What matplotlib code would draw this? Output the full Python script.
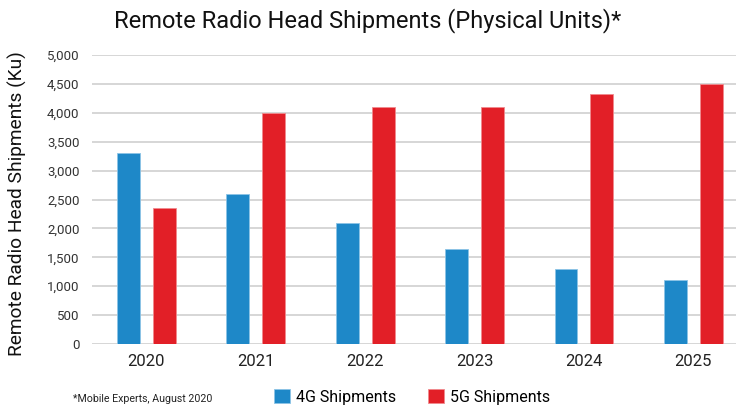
import matplotlib
matplotlib.use("Agg")
import matplotlib.pyplot as plt
import numpy as np

plt.rcParams['font.family'] = ['Roboto', 'DejaVu Sans']

years = ['2020', '2021', '2022', '2023', '2024', '2025']
shipments_4g = [3300, 2600, 2100, 1650, 1300, 1100]
shipments_5g = [2350, 4000, 4100, 4100, 4330, 4500]
yticks = [0, 500, 1000, 1500, 2000, 2500, 3000, 3500, 4000, 4500, 5000]

blue = '#1e88c8'
red = '#e21f27'

fig = plt.figure(figsize=(7.36, 4.07), dpi=100)
ax = fig.add_axes([92 / 736, 1 - 344 / 407, 1 - 92 / 736, (344 - 55) / 407])

x = np.arange(len(years))
w = 0.21
ax.bar(x - 0.164, shipments_4g, w, color=blue, edgecolor='#8cc4e6', linewidth=0.6,
       label='4G Shipments', zorder=3)
ax.bar(x + 0.164, shipments_5g, w, color=red, edgecolor='#f08a8e', linewidth=0.6,
       label='5G Shipments', zorder=3)

ax.set_xlim(-0.497, 5.39)
ax.set_ylim(0, 5000)
ax.set_yticks(yticks)
ax.set_yticklabels([f'{v:,}' for v in yticks], fontsize=9.5, color='#333333')
ax.set_xticks(x)
ax.set_xticklabels(years, fontsize=12, color='#222222')
ax.tick_params(axis='both', length=0)
ax.tick_params(axis='y', pad=9)
ax.tick_params(axis='x', pad=7)
ax.grid(axis='y', color='#d0d0d0', linewidth=1.2, zorder=0)
ax.set_axisbelow(True)
for s in ax.spines.values():
    s.set_visible(False)

ax.set_ylabel('Remote Radio Head Shipments (Ku)', fontsize=13.8, color='#111111')
ax.yaxis.set_label_coords(-75 / 644, 0.486)
ax.yaxis.label.set_va('center')

fig.text(0.5, 0.95, 'Remote Radio Head Shipments (Physical Units)*', ha='center', va='center',
         fontsize=17, color='#111111')
fig.text(73 / 736, 1 - 399 / 407, '*Mobile Experts, August 2020', ha='left', va='center',
         fontsize=7.7, color='#222222')

fig.legend(loc='center', bbox_to_anchor=(412 / 736, 1 - 397 / 407), ncol=2, frameon=False,
           fontsize=11.5, handlelength=1.0, handleheight=1.0, columnspacing=2.0,
           handletextpad=0.35)

fig.savefig('out.png', dpi=100)
